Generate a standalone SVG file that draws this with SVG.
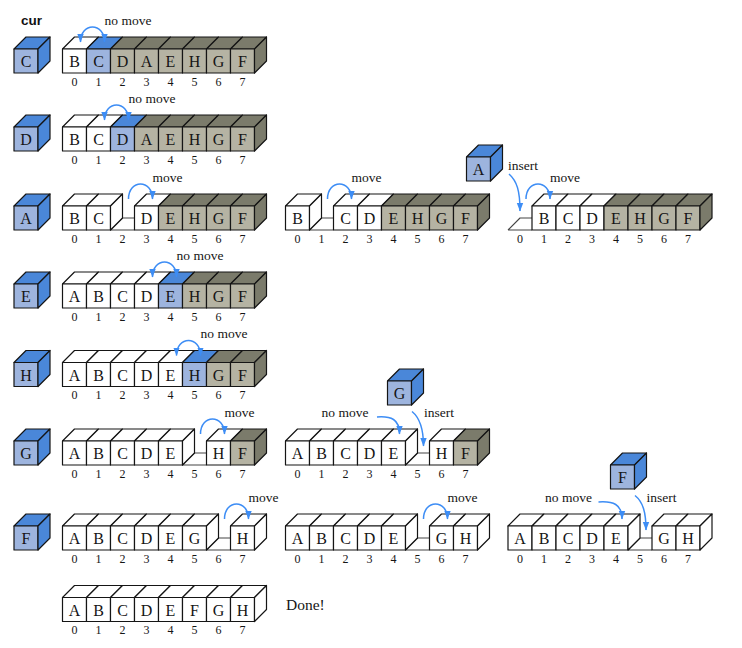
<svg xmlns="http://www.w3.org/2000/svg" xmlns:xlink="http://www.w3.org/1999/xlink" width="742" height="648" viewBox="0 0 742 648">
<style>
.s{stroke:#151515;stroke-width:1.2;stroke-linejoin:round}
.w{fill:#ffffff}
.gf{fill:#b5b3a3}
.gt{fill:#7b7b6b}
.bf{fill:#9db4de}
.bt{fill:#4a87d9}
.fl{fill:none;stroke:#444;stroke-width:1.1;stroke-linejoin:round}
.lt{font-family:"Liberation Serif","Times New Roman",serif;font-size:16px;text-anchor:middle;fill:#151515}
.ix{font-family:"Liberation Serif","Times New Roman",serif;font-size:12px;text-anchor:middle;fill:#151515}
.lb{font-family:"Liberation Serif","Times New Roman",serif;font-size:13.5px;fill:#151515}
.ar{fill:none;stroke:#3d8df5;stroke-width:1.5}
.hd{font-family:"Liberation Sans",Arial,sans-serif;font-weight:bold;font-size:13.5px;fill:#111}
</style>
<defs>
<marker id="ah" markerWidth="9" markerHeight="8" refX="8" refY="4" orient="auto-start-reverse" markerUnits="userSpaceOnUse"><path d="M0,0.8 L8.5,4 L0,7.2 Z" fill="#3d8df5"/></marker>
<g id="cW"><path class="s w" d="M0,0 L12,-12 L36,-12 L24,0 Z"/><rect class="s w" width="24" height="24"/></g>
<g id="cG"><path class="s gt" d="M0,0 L12,-12 L36,-12 L24,0 Z"/><rect class="s gf" width="24" height="24"/></g>
<g id="cB"><path class="s bt" d="M0,0 L12,-12 L36,-12 L24,0 Z"/><rect class="s bf" width="24" height="24"/></g>
<path id="sW" class="s w" d="M24,0 L36,-12 L36,12 L24,24 Z"/>
<path id="sG" class="s gt" d="M24,0 L36,-12 L36,12 L24,24 Z"/>
<path id="sB" class="s bt" d="M24,0 L36,-12 L36,12 L24,24 Z"/>
<path id="fl" class="fl" d="M0,24 L12,12 L36,12 M0,24 L24,24"/>
<g id="cube"><use xlink:href="#cB"/><use xlink:href="#sB"/></g>
</defs>
<rect width="742" height="648" fill="#ffffff"/>
<text class="hd" x="21" y="25">cur</text>

<!-- cur cubes -->
<g id="cur1"><use xlink:href="#cube" x="14" y="49"/><text class="lt" x="26" y="67">C</text></g>
<g id="cur2"><use xlink:href="#cube" x="14" y="127"/><text class="lt" x="26" y="145">D</text></g>
<g id="cur3"><use xlink:href="#cube" x="14" y="206"/><text class="lt" x="26" y="224">A</text></g>
<g id="cur4"><use xlink:href="#cube" x="14" y="284"/><text class="lt" x="26" y="302">E</text></g>
<g id="cur5"><use xlink:href="#cube" x="14" y="362.5"/><text class="lt" x="26" y="380.5">H</text></g>
<g id="cur6"><use xlink:href="#cube" x="14" y="441"/><text class="lt" x="26" y="459">G</text></g>
<g id="cur7"><use xlink:href="#cube" x="14" y="526"/><text class="lt" x="26" y="544">F</text></g>

<!-- floating cubes -->
<g id="cubeA"><use xlink:href="#cube" x="466.5" y="157"/><text class="lt" x="478.5" y="175">A</text></g>
<g id="cubeG"><use xlink:href="#cube" x="387.5" y="381"/><text class="lt" x="399.5" y="399">G</text></g>
<g id="cubeF"><use xlink:href="#cube" x="610.5" y="465"/><text class="lt" x="622.5" y="483">F</text></g>

<!-- Row 1 -->
<g id="arr1">
<use xlink:href="#cW" x="62.5" y="49"/><use xlink:href="#cB" x="86.5" y="49"/><use xlink:href="#cG" x="110.5" y="49"/><use xlink:href="#cG" x="134.5" y="49"/><use xlink:href="#cG" x="158.5" y="49"/><use xlink:href="#cG" x="182.5" y="49"/><use xlink:href="#cG" x="206.5" y="49"/><use xlink:href="#cG" x="230.5" y="49"/><use xlink:href="#sG" x="230.5" y="49"/>
<text class="lt" x="74.5" y="67">B</text><text class="lt" x="98.5" y="67">C</text><text class="lt" x="122.5" y="67">D</text><text class="lt" x="146.5" y="67">A</text><text class="lt" x="170.5" y="67">E</text><text class="lt" x="194.5" y="67">H</text><text class="lt" x="218.5" y="67">G</text><text class="lt" x="242.5" y="67">F</text>
<text class="ix" x="74.5" y="85.5">0</text><text class="ix" x="98.5" y="85.5">1</text><text class="ix" x="122.5" y="85.5">2</text><text class="ix" x="146.5" y="85.5">3</text><text class="ix" x="170.5" y="85.5">4</text><text class="ix" x="194.5" y="85.5">5</text><text class="ix" x="218.5" y="85.5">6</text><text class="ix" x="242.5" y="85.5">7</text>
</g>

<!-- Row 2 -->
<g id="arr2">
<use xlink:href="#cW" x="62.5" y="127"/><use xlink:href="#cW" x="86.5" y="127"/><use xlink:href="#cB" x="110.5" y="127"/><use xlink:href="#cG" x="134.5" y="127"/><use xlink:href="#cG" x="158.5" y="127"/><use xlink:href="#cG" x="182.5" y="127"/><use xlink:href="#cG" x="206.5" y="127"/><use xlink:href="#cG" x="230.5" y="127"/><use xlink:href="#sG" x="230.5" y="127"/>
<text class="lt" x="74.5" y="145">B</text><text class="lt" x="98.5" y="145">C</text><text class="lt" x="122.5" y="145">D</text><text class="lt" x="146.5" y="145">A</text><text class="lt" x="170.5" y="145">E</text><text class="lt" x="194.5" y="145">H</text><text class="lt" x="218.5" y="145">G</text><text class="lt" x="242.5" y="145">F</text>
<text class="ix" x="74.5" y="163.5">0</text><text class="ix" x="98.5" y="163.5">1</text><text class="ix" x="122.5" y="163.5">2</text><text class="ix" x="146.5" y="163.5">3</text><text class="ix" x="170.5" y="163.5">4</text><text class="ix" x="194.5" y="163.5">5</text><text class="ix" x="218.5" y="163.5">6</text><text class="ix" x="242.5" y="163.5">7</text>
</g>

<!-- Row 3 left -->
<g id="arr3a">
<use xlink:href="#fl" x="110.5" y="206"/>
<use xlink:href="#cW" x="62.5" y="206"/><use xlink:href="#cW" x="86.5" y="206"/><use xlink:href="#sW" x="86.5" y="206"/><use xlink:href="#cW" x="134.5" y="206"/><use xlink:href="#cG" x="158.5" y="206"/><use xlink:href="#cG" x="182.5" y="206"/><use xlink:href="#cG" x="206.5" y="206"/><use xlink:href="#cG" x="230.5" y="206"/><use xlink:href="#sG" x="230.5" y="206"/>
<text class="lt" x="74.5" y="224">B</text><text class="lt" x="98.5" y="224">C</text><text class="lt" x="146.5" y="224">D</text><text class="lt" x="170.5" y="224">E</text><text class="lt" x="194.5" y="224">H</text><text class="lt" x="218.5" y="224">G</text><text class="lt" x="242.5" y="224">F</text>
<text class="ix" x="74.5" y="242.5">0</text><text class="ix" x="98.5" y="242.5">1</text><text class="ix" x="122.5" y="242.5">2</text><text class="ix" x="146.5" y="242.5">3</text><text class="ix" x="170.5" y="242.5">4</text><text class="ix" x="194.5" y="242.5">5</text><text class="ix" x="218.5" y="242.5">6</text><text class="ix" x="242.5" y="242.5">7</text>
</g>

<!-- Row 3 middle -->
<g id="arr3b">
<use xlink:href="#fl" x="309.5" y="206"/>
<use xlink:href="#cW" x="285.5" y="206"/><use xlink:href="#sW" x="285.5" y="206"/><use xlink:href="#cW" x="333.5" y="206"/><use xlink:href="#cW" x="357.5" y="206"/><use xlink:href="#cG" x="381.5" y="206"/><use xlink:href="#cG" x="405.5" y="206"/><use xlink:href="#cG" x="429.5" y="206"/><use xlink:href="#cG" x="453.5" y="206"/><use xlink:href="#sG" x="453.5" y="206"/>
<text class="lt" x="297.5" y="224">B</text><text class="lt" x="345.5" y="224">C</text><text class="lt" x="369.5" y="224">D</text><text class="lt" x="393.5" y="224">E</text><text class="lt" x="417.5" y="224">H</text><text class="lt" x="441.5" y="224">G</text><text class="lt" x="465.5" y="224">F</text>
<text class="ix" x="297.5" y="242.5">0</text><text class="ix" x="321.5" y="242.5">1</text><text class="ix" x="345.5" y="242.5">2</text><text class="ix" x="369.5" y="242.5">3</text><text class="ix" x="393.5" y="242.5">4</text><text class="ix" x="417.5" y="242.5">5</text><text class="ix" x="441.5" y="242.5">6</text><text class="ix" x="465.5" y="242.5">7</text>
</g>

<!-- Row 3 right -->
<g id="arr3c">
<use xlink:href="#fl" x="508" y="206"/>
<use xlink:href="#cW" x="532" y="206"/><use xlink:href="#cW" x="556" y="206"/><use xlink:href="#cW" x="580" y="206"/><use xlink:href="#cG" x="604" y="206"/><use xlink:href="#cG" x="628" y="206"/><use xlink:href="#cG" x="652" y="206"/><use xlink:href="#cG" x="676" y="206"/><use xlink:href="#sG" x="676" y="206"/>
<text class="lt" x="544" y="224">B</text><text class="lt" x="568" y="224">C</text><text class="lt" x="592" y="224">D</text><text class="lt" x="616" y="224">E</text><text class="lt" x="640" y="224">H</text><text class="lt" x="664" y="224">G</text><text class="lt" x="688" y="224">F</text>
<text class="ix" x="520" y="242.5">0</text><text class="ix" x="544" y="242.5">1</text><text class="ix" x="568" y="242.5">2</text><text class="ix" x="592" y="242.5">3</text><text class="ix" x="616" y="242.5">4</text><text class="ix" x="640" y="242.5">5</text><text class="ix" x="664" y="242.5">6</text><text class="ix" x="688" y="242.5">7</text>
</g>

<!-- Row 4 -->
<g id="arr4">
<use xlink:href="#cW" x="62.5" y="284"/><use xlink:href="#cW" x="86.5" y="284"/><use xlink:href="#cW" x="110.5" y="284"/><use xlink:href="#cW" x="134.5" y="284"/><use xlink:href="#cB" x="158.5" y="284"/><use xlink:href="#cG" x="182.5" y="284"/><use xlink:href="#cG" x="206.5" y="284"/><use xlink:href="#cG" x="230.5" y="284"/><use xlink:href="#sG" x="230.5" y="284"/>
<text class="lt" x="74.5" y="302">A</text><text class="lt" x="98.5" y="302">B</text><text class="lt" x="122.5" y="302">C</text><text class="lt" x="146.5" y="302">D</text><text class="lt" x="170.5" y="302">E</text><text class="lt" x="194.5" y="302">H</text><text class="lt" x="218.5" y="302">G</text><text class="lt" x="242.5" y="302">F</text>
<text class="ix" x="74.5" y="320.5">0</text><text class="ix" x="98.5" y="320.5">1</text><text class="ix" x="122.5" y="320.5">2</text><text class="ix" x="146.5" y="320.5">3</text><text class="ix" x="170.5" y="320.5">4</text><text class="ix" x="194.5" y="320.5">5</text><text class="ix" x="218.5" y="320.5">6</text><text class="ix" x="242.5" y="320.5">7</text>
</g>

<!-- Row 5 -->
<g id="arr5">
<use xlink:href="#cW" x="62.5" y="362.5"/><use xlink:href="#cW" x="86.5" y="362.5"/><use xlink:href="#cW" x="110.5" y="362.5"/><use xlink:href="#cW" x="134.5" y="362.5"/><use xlink:href="#cW" x="158.5" y="362.5"/><use xlink:href="#cB" x="182.5" y="362.5"/><use xlink:href="#cG" x="206.5" y="362.5"/><use xlink:href="#cG" x="230.5" y="362.5"/><use xlink:href="#sG" x="230.5" y="362.5"/>
<text class="lt" x="74.5" y="380.5">A</text><text class="lt" x="98.5" y="380.5">B</text><text class="lt" x="122.5" y="380.5">C</text><text class="lt" x="146.5" y="380.5">D</text><text class="lt" x="170.5" y="380.5">E</text><text class="lt" x="194.5" y="380.5">H</text><text class="lt" x="218.5" y="380.5">G</text><text class="lt" x="242.5" y="380.5">F</text>
<text class="ix" x="74.5" y="399">0</text><text class="ix" x="98.5" y="399">1</text><text class="ix" x="122.5" y="399">2</text><text class="ix" x="146.5" y="399">3</text><text class="ix" x="170.5" y="399">4</text><text class="ix" x="194.5" y="399">5</text><text class="ix" x="218.5" y="399">6</text><text class="ix" x="242.5" y="399">7</text>
</g>

<!-- Row 6 left -->
<g id="arr6a">
<use xlink:href="#fl" x="182.5" y="441"/>
<use xlink:href="#cW" x="62.5" y="441"/><use xlink:href="#cW" x="86.5" y="441"/><use xlink:href="#cW" x="110.5" y="441"/><use xlink:href="#cW" x="134.5" y="441"/><use xlink:href="#cW" x="158.5" y="441"/><use xlink:href="#sW" x="158.5" y="441"/><use xlink:href="#cW" x="206.5" y="441"/><use xlink:href="#cG" x="230.5" y="441"/><use xlink:href="#sG" x="230.5" y="441"/>
<text class="lt" x="74.5" y="459">A</text><text class="lt" x="98.5" y="459">B</text><text class="lt" x="122.5" y="459">C</text><text class="lt" x="146.5" y="459">D</text><text class="lt" x="170.5" y="459">E</text><text class="lt" x="218.5" y="459">H</text><text class="lt" x="242.5" y="459">F</text>
<text class="ix" x="74.5" y="477.5">0</text><text class="ix" x="98.5" y="477.5">1</text><text class="ix" x="122.5" y="477.5">2</text><text class="ix" x="146.5" y="477.5">3</text><text class="ix" x="170.5" y="477.5">4</text><text class="ix" x="194.5" y="477.5">5</text><text class="ix" x="218.5" y="477.5">6</text><text class="ix" x="242.5" y="477.5">7</text>
</g>

<!-- Row 6 middle -->
<g id="arr6b">
<use xlink:href="#fl" x="405.5" y="441"/>
<use xlink:href="#cW" x="285.5" y="441"/><use xlink:href="#cW" x="309.5" y="441"/><use xlink:href="#cW" x="333.5" y="441"/><use xlink:href="#cW" x="357.5" y="441"/><use xlink:href="#cW" x="381.5" y="441"/><use xlink:href="#sW" x="381.5" y="441"/><use xlink:href="#cW" x="429.5" y="441"/><use xlink:href="#cG" x="453.5" y="441"/><use xlink:href="#sG" x="453.5" y="441"/>
<text class="lt" x="297.5" y="459">A</text><text class="lt" x="321.5" y="459">B</text><text class="lt" x="345.5" y="459">C</text><text class="lt" x="369.5" y="459">D</text><text class="lt" x="393.5" y="459">E</text><text class="lt" x="441.5" y="459">H</text><text class="lt" x="465.5" y="459">F</text>
<text class="ix" x="297.5" y="477.5">0</text><text class="ix" x="321.5" y="477.5">1</text><text class="ix" x="345.5" y="477.5">2</text><text class="ix" x="369.5" y="477.5">3</text><text class="ix" x="393.5" y="477.5">4</text><text class="ix" x="417.5" y="477.5">5</text><text class="ix" x="441.5" y="477.5">6</text><text class="ix" x="465.5" y="477.5">7</text>
</g>

<!-- Row 7 left -->
<g id="arr7a">
<use xlink:href="#fl" x="206.5" y="526"/>
<use xlink:href="#cW" x="62.5" y="526"/><use xlink:href="#cW" x="86.5" y="526"/><use xlink:href="#cW" x="110.5" y="526"/><use xlink:href="#cW" x="134.5" y="526"/><use xlink:href="#cW" x="158.5" y="526"/><use xlink:href="#cW" x="182.5" y="526"/><use xlink:href="#sW" x="182.5" y="526"/><use xlink:href="#cW" x="230.5" y="526"/><use xlink:href="#sW" x="230.5" y="526"/>
<text class="lt" x="74.5" y="544">A</text><text class="lt" x="98.5" y="544">B</text><text class="lt" x="122.5" y="544">C</text><text class="lt" x="146.5" y="544">D</text><text class="lt" x="170.5" y="544">E</text><text class="lt" x="194.5" y="544">G</text><text class="lt" x="242.5" y="544">H</text>
<text class="ix" x="74.5" y="562.5">0</text><text class="ix" x="98.5" y="562.5">1</text><text class="ix" x="122.5" y="562.5">2</text><text class="ix" x="146.5" y="562.5">3</text><text class="ix" x="170.5" y="562.5">4</text><text class="ix" x="194.5" y="562.5">5</text><text class="ix" x="218.5" y="562.5">6</text><text class="ix" x="242.5" y="562.5">7</text>
</g>

<!-- Row 7 middle -->
<g id="arr7b">
<use xlink:href="#fl" x="405.5" y="526"/>
<use xlink:href="#cW" x="285.5" y="526"/><use xlink:href="#cW" x="309.5" y="526"/><use xlink:href="#cW" x="333.5" y="526"/><use xlink:href="#cW" x="357.5" y="526"/><use xlink:href="#cW" x="381.5" y="526"/><use xlink:href="#sW" x="381.5" y="526"/><use xlink:href="#cW" x="429.5" y="526"/><use xlink:href="#cW" x="453.5" y="526"/><use xlink:href="#sW" x="453.5" y="526"/>
<text class="lt" x="297.5" y="544">A</text><text class="lt" x="321.5" y="544">B</text><text class="lt" x="345.5" y="544">C</text><text class="lt" x="369.5" y="544">D</text><text class="lt" x="393.5" y="544">E</text><text class="lt" x="441.5" y="544">G</text><text class="lt" x="465.5" y="544">H</text>
<text class="ix" x="297.5" y="562.5">0</text><text class="ix" x="321.5" y="562.5">1</text><text class="ix" x="345.5" y="562.5">2</text><text class="ix" x="369.5" y="562.5">3</text><text class="ix" x="393.5" y="562.5">4</text><text class="ix" x="417.5" y="562.5">5</text><text class="ix" x="441.5" y="562.5">6</text><text class="ix" x="465.5" y="562.5">7</text>
</g>

<!-- Row 7 right -->
<g id="arr7c">
<use xlink:href="#fl" x="628" y="526"/>
<use xlink:href="#cW" x="508" y="526"/><use xlink:href="#cW" x="532" y="526"/><use xlink:href="#cW" x="556" y="526"/><use xlink:href="#cW" x="580" y="526"/><use xlink:href="#cW" x="604" y="526"/><use xlink:href="#sW" x="604" y="526"/><use xlink:href="#cW" x="652" y="526"/><use xlink:href="#cW" x="676" y="526"/><use xlink:href="#sW" x="676" y="526"/>
<text class="lt" x="520" y="544">A</text><text class="lt" x="544" y="544">B</text><text class="lt" x="568" y="544">C</text><text class="lt" x="592" y="544">D</text><text class="lt" x="616" y="544">E</text><text class="lt" x="664" y="544">G</text><text class="lt" x="688" y="544">H</text>
<text class="ix" x="520" y="562.5">0</text><text class="ix" x="544" y="562.5">1</text><text class="ix" x="568" y="562.5">2</text><text class="ix" x="592" y="562.5">3</text><text class="ix" x="616" y="562.5">4</text><text class="ix" x="640" y="562.5">5</text><text class="ix" x="664" y="562.5">6</text><text class="ix" x="688" y="562.5">7</text>
</g>

<!-- Row 8 -->
<g id="arr8">
<use xlink:href="#cW" x="62.5" y="597.5"/><use xlink:href="#cW" x="86.5" y="597.5"/><use xlink:href="#cW" x="110.5" y="597.5"/><use xlink:href="#cW" x="134.5" y="597.5"/><use xlink:href="#cW" x="158.5" y="597.5"/><use xlink:href="#cW" x="182.5" y="597.5"/><use xlink:href="#cW" x="206.5" y="597.5"/><use xlink:href="#cW" x="230.5" y="597.5"/><use xlink:href="#sW" x="230.5" y="597.5"/>
<text class="lt" x="74.5" y="615.5">A</text><text class="lt" x="98.5" y="615.5">B</text><text class="lt" x="122.5" y="615.5">C</text><text class="lt" x="146.5" y="615.5">D</text><text class="lt" x="170.5" y="615.5">E</text><text class="lt" x="194.5" y="615.5">F</text><text class="lt" x="218.5" y="615.5">G</text><text class="lt" x="242.5" y="615.5">H</text>
<text class="ix" x="74.5" y="634">0</text><text class="ix" x="98.5" y="634">1</text><text class="ix" x="122.5" y="634">2</text><text class="ix" x="146.5" y="634">3</text><text class="ix" x="170.5" y="634">4</text><text class="ix" x="194.5" y="634">5</text><text class="ix" x="218.5" y="634">6</text><text class="ix" x="242.5" y="634">7</text>
</g>
<text class="lb" x="286" y="610" style="font-size:15.5px">Done!</text>

<!-- connectors -->
<g id="connectors">
<path class="ar" d="M80.5,42 C80.5,22 104.5,22 104.5,42" marker-start="url(#ah)" marker-end="url(#ah)"/>
<path class="ar" d="M104.5,120 C104.5,100 128.5,100 128.5,120" marker-start="url(#ah)" marker-end="url(#ah)"/>
<path class="ar" d="M128.5,199 C128.5,179 152.5,179 152.5,199" marker-end="url(#ah)"/>
<path class="ar" d="M327.5,199 C327.5,179 351.5,179 351.5,199" marker-end="url(#ah)"/>
<path class="ar" d="M526,199 C526,179 550,179 550,199" marker-end="url(#ah)"/>
<path class="ar" d="M509,174 C517,181 520,191 520,211" marker-end="url(#ah)"/>
<path class="ar" d="M152.5,277 C152.5,257 176.5,257 176.5,277" marker-start="url(#ah)" marker-end="url(#ah)"/>
<path class="ar" d="M176.5,355.5 C176.5,335.5 200.5,335.5 200.5,355.5" marker-start="url(#ah)" marker-end="url(#ah)"/>
<path class="ar" d="M200.5,434 C200.5,414 224.5,414 224.5,434" marker-end="url(#ah)"/>
<path class="ar" d="M377,417 C391,416 399.5,419 399.5,434" marker-end="url(#ah)"/>
<path class="ar" d="M412,411.5 C420,418 423.5,428 423.5,446" marker-end="url(#ah)"/>
<path class="ar" d="M224.5,519 C224.5,499 248.5,499 248.5,519" marker-end="url(#ah)"/>
<path class="ar" d="M423.5,519 C423.5,499 447.5,499 447.5,519" marker-end="url(#ah)"/>
<path class="ar" d="M598.5,502 C613,501 622,504 622,519" marker-end="url(#ah)"/>
<path class="ar" d="M635,495.5 C643,502 646,512 646,530" marker-end="url(#ah)"/>
</g>

<!-- labels -->
<g id="labels">
<text class="lb" x="104.5" y="24.5">no move</text>
<text class="lb" x="128.5" y="102.5">no move</text>
<text class="lb" x="152.5" y="181.5">move</text>
<text class="lb" x="351.5" y="181.5">move</text>
<text class="lb" x="550" y="181.5">move</text>
<text class="lb" x="508" y="170">insert</text>
<text class="lb" x="176.5" y="259.5">no move</text>
<text class="lb" x="200.5" y="338">no move</text>
<text class="lb" x="224.5" y="416.5">move</text>
<text class="lb" x="321.5" y="416.5">no move</text>
<text class="lb" x="424" y="416.5">insert</text>
<text class="lb" x="248.5" y="501.5">move</text>
<text class="lb" x="447.5" y="501.5">move</text>
<text class="lb" x="545" y="501.5">no move</text>
<text class="lb" x="646.5" y="501.5">insert</text>
</g>
</svg>
